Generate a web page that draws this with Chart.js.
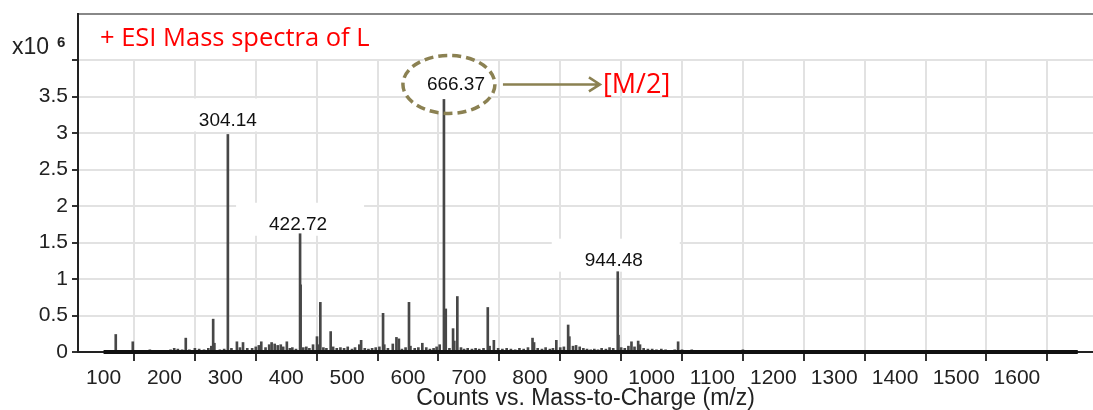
<!DOCTYPE html>
<html>
<head>
<meta charset="utf-8">
<script src="https://cdn.jsdelivr.net/npm/chart.js@4.4.0/dist/chart.umd.min.js"></script>
<style>
html,body{margin:0;padding:0;background:#fff;}
#wrap{position:relative;width:1093px;height:410px;}
</style>
</head>
<body>
<div id="wrap"><canvas id="c" width="1093" height="410"></canvas></div>
<script>
// ---- data (m/z, counts x10^6) ----
const peakMz = [
  120,148,176,183,210,216,222,229,235,241,250,257,265,272,277,280,282,291,298,
  304.14,310,319,324,329,336,344,350,355,359,366,372,376,381,386,391,395,401,406,410,416,
  422.72,423.6,428,433,438,444,450.5,453,456,461,466,473,477,483,489,495,501,508,513,520,523,529,535,541,547,553,
  559,561,567,575,581,585,590,596,601.6,604,611,617,623.5,630,636,642,647,652,
  659,662,668,674,676,681,687,692,698,705,711,717,724,731,734,741,748,755,762,769,776,783,790,797,
  804.5,807,813,820,826,833,838,843.6,850,856,863,865,871,876,882,888,894,900,906,912,918,925,931,937,
  944.48,945.6,950,956,962,967,972,978,981,987,994,1001,1008,1016,1023,1031,1038,1043.6,1050,1058,1066,1075,
  1088,1102,1118,1150,1165,1190,1215,1245,1262,1310
];
const peakIntensity = [
  0.24,0.14,0.03,0.02,0.03,0.05,0.04,0.03,0.19,0.03,0.05,0.04,0.03,0.05,0.08,0.45,0.12,0.03,0.04,
  2.98,0.05,0.14,0.06,0.13,0.05,0.05,0.07,0.09,0.14,0.06,0.10,0.13,0.11,0.09,0.10,0.07,0.14,0.05,0.06,0.04,
  1.62,0.92,0.06,0.07,0.05,0.10,0.21,0.10,0.68,0.06,0.05,0.28,0.07,0.05,0.06,0.05,0.07,0.04,0.06,0.10,0.16,0.05,0.04,0.05,0.06,0.07,
  0.53,0.10,0.05,0.11,0.20,0.18,0.04,0.06,0.68,0.08,0.05,0.06,0.12,0.06,0.04,0.05,0.07,0.10,
  3.46,0.59,0.05,0.32,0.15,0.76,0.06,0.04,0.05,0.04,0.05,0.04,0.05,0.61,0.08,0.16,0.05,0.04,0.05,0.04,0.03,0.05,0.04,0.06,
  0.19,0.13,0.05,0.04,0.06,0.04,0.05,0.16,0.06,0.07,0.37,0.21,0.08,0.09,0.07,0.05,0.04,0.03,0.04,0.03,0.05,0.04,0.06,0.05,
  1.10,0.23,0.06,0.05,0.08,0.14,0.07,0.15,0.10,0.05,0.04,0.04,0.03,0.04,0.03,0.02,0.03,0.14,0.03,0.02,0.03,0.02,
  0.02,0.02,0.02,0.03,0.02,0.02,0.02,0.02,0.02,0.01
];
const baselineMz = [100, 1700];
const baselineIntensity = [0, 0];
const labelledPeakMz = [304.14, 422.72, 659, 944.48];
const labelledPeakText = ['304.14', '422.72', '666.37', '944.48'];
const xTickValues = [100,200,300,400,500,600,700,800,900,1000,1100,1200,1300,1400,1500,1600,1700];
const xTickLabels = ['100','200','300','400','500','600','700','800','900','1000','1100','1200','1300','1400','1500','1600',''];
const yTickValues = [0,0.5,1,1.5,2,2.5,3,3.5,4];
const yTickLabels = ['0','0.5','1','1.5','2','2.5','3','3.5',''];
const titleText = '+ ESI Mass spectra of L';
const ionText = '[M/2]';
const xTitle = 'Counts vs. Mass-to-Charge (m/z)';

// ---- styling of annotations (positions in pixels relative to peaks) ----
const labelStyle = {
  '304.14': {dx: 0,  dy: -14, box: true},
  '422.72': {dx: -2, dy: -9,  box: true},
  '666.37': {dx: 12, dy: -15, box: false},
  '944.48': {dx: -4, dy: -11, box: true}
};
const OLIVE = '#8b8152';
const FONT = '"Liberation Sans", Arial, sans-serif';

const annotPlugin = {
  id: 'annot',
  beforeDatasetsDraw(chart) {
    const {ctx, scales:{x, y}} = chart;
    ctx.save();
    labelledPeakMz.forEach((mz, i) => {
      const txt = labelledPeakText[i];
      const st = labelStyle[txt];
      const h = peakIntensity[peakMz.indexOf(mz)];
      const px = x.getPixelForValue(mz) + st.dx;
      const py = y.getPixelForValue(h) + st.dy;
      ctx.fillStyle = '#fff';
      if (st.box) {
        ctx.fillRect(px - 62, py - 22, 128, 33);
      } else {
        ctx.beginPath();
        ctx.ellipse(px - 7, py, 46, 29, 0, 0, Math.PI * 2);
        ctx.fill();
      }
    });
    ctx.restore();
  },
  afterDatasetsDraw(chart) {
    const {ctx, chartArea, scales:{x, y}} = chart;
    ctx.save();
    // frame: top line and left axis extension
    ctx.strokeStyle = '#888';
    ctx.lineWidth = 2;
    ctx.beginPath();
    ctx.moveTo(chartArea.left - 1, 14);
    ctx.lineTo(1093, 14);
    ctx.stroke();
    ctx.strokeStyle = '#222';
    ctx.beginPath();
    ctx.moveTo(chartArea.left, 13);
    ctx.lineTo(chartArea.left, chartArea.top);
    ctx.stroke();

    // x10^6 multiplier
    ctx.fillStyle = '#222';
    ctx.textBaseline = 'alphabetic';
    ctx.textAlign = 'left';
    ctx.font = '23px ' + FONT;
    ctx.fillText('x10', 12, 54);
    ctx.font = 'bold 15px ' + FONT;
    ctx.fillText('6', 57, 47);

    // title
    ctx.fillStyle = '#ff0000';
    ctx.font = '25.5px "Open Sans", sans-serif';
    ctx.fillText(titleText, 100, 46);

    // peak labels
    ctx.fillStyle = '#111';
    ctx.font = '19px ' + FONT;
    ctx.textAlign = 'center';
    ctx.textBaseline = 'middle';
    let ell = null;
    labelledPeakMz.forEach((mz, i) => {
      const txt = labelledPeakText[i];
      const st = labelStyle[txt];
      const h = peakIntensity[peakMz.indexOf(mz)];
      const px = x.getPixelForValue(mz) + st.dx;
      const py = y.getPixelForValue(h) + st.dy;
      ctx.fillText(txt, px, py);
      if (!st.box) ell = {cx: px - 7, cy: py};
    });

    if (ell) {
      // dashed ellipse
      ctx.strokeStyle = OLIVE;
      ctx.lineWidth = 3.5;
      ctx.setLineDash([9, 5]);
      ctx.beginPath();
      ctx.ellipse(ell.cx, ell.cy, 46, 29, 0, 0, Math.PI * 2);
      ctx.stroke();
      ctx.setLineDash([]);
      // arrow
      const ax0 = ell.cx + 54, ax1 = ell.cx + 151, ay = ell.cy;
      ctx.lineWidth = 2.5;
      ctx.beginPath();
      ctx.moveTo(ax0, ay);
      ctx.lineTo(ax1, ay);
      ctx.moveTo(ax1 - 11, ay - 7);
      ctx.lineTo(ax1, ay);
      ctx.lineTo(ax1 - 11, ay + 7);
      ctx.stroke();
      // ion label
      ctx.fillStyle = '#ff0000';
      ctx.font = '27px "Open Sans", sans-serif';
      ctx.textAlign = 'left';
      ctx.textBaseline = 'alphabetic';
      ctx.fillText(ionText, ax1 + 3, ell.cy + 9);
    }
    ctx.restore();
  }
};

const ctx = document.getElementById('c').getContext('2d');
new Chart(ctx, {
  type: 'bar',
  data: {
    datasets: [
      {
        type: 'line',
        data: baselineMz.map((m, i) => ({x: m, y: baselineIntensity[i]})),
        borderColor: '#111',
        borderWidth: 4,
        pointRadius: 0,
        clip: false,
        order: 0
      },
      {
        type: 'bar',
        data: peakMz.map((m, i) => ({x: m, y: peakIntensity[i]})),
        backgroundColor: '#474747',
        borderWidth: 0,
        barThickness: 2,
        grouped: false,
        order: 1
      }
    ]
  },
  options: {
    responsive: false,
    animation: false,
    devicePixelRatio: 1,
    layout: {padding: {top: 60, right: 0, left: 0, bottom: 0}},
    plugins: {legend: {display: false}, tooltip: {enabled: false}},
    scales: {
      x: {
        type: 'linear',
        min: 58,
        max: 1725,
        offset: false,
        afterBuildTicks: (s) => { s.ticks = xTickValues.map(v => ({value: v})); },
        afterFit: (s) => { s.height = 58; },
        ticks: {
          autoSkip: false,
          maxRotation: 0,
          padding: 5,
          color: '#222',
          font: {family: FONT, size: 21},
          callback: (v) => { const k = xTickValues.indexOf(v); return k >= 0 ? xTickLabels[k] : ''; }
        },
        grid: {color: '#e2e2e2', lineWidth: 2, tickColor: '#333', tickLength: 9},
        border: {color: '#222', width: 2},
        title: {display: true, text: xTitle, color: '#222', font: {family: FONT, size: 23, lineHeight: 1}, padding: 0}
      },
      y: {
        min: 0,
        max: 4,
        afterBuildTicks: (s) => { s.ticks = yTickValues.map(v => ({value: v})); },
        afterFit: (s) => { s.width = 78; },
        ticks: {
          padding: 4,
          color: '#222',
          font: {family: FONT, size: 21},
          callback: (v) => { const k = yTickValues.indexOf(v); return k >= 0 ? yTickLabels[k] : ''; }
        },
        grid: {color: '#e2e2e2', lineWidth: 2, tickColor: '#333', tickLength: 6},
        border: {color: '#222', width: 2}
      }
    }
  },
  plugins: [annotPlugin]
});
</script>
</body>
</html>
